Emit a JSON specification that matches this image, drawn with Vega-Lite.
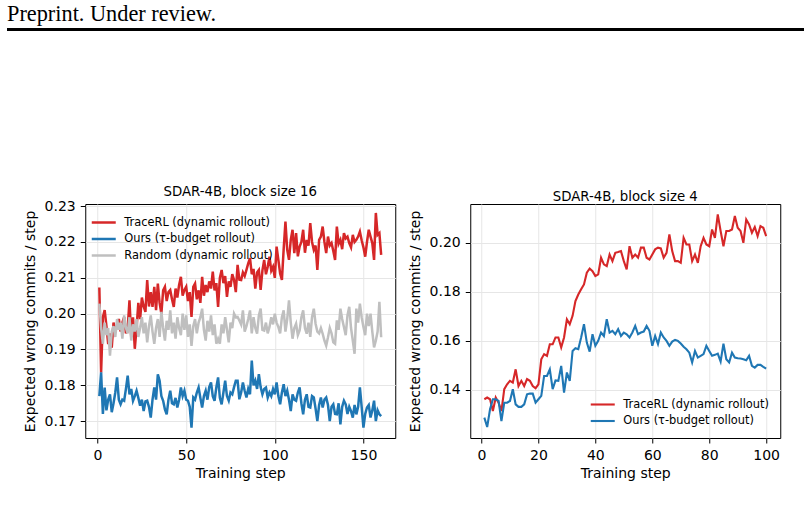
{
  "$schema": "https://vega.github.io/schema/vega-lite/v6.json",
  "background": "white",
  "padding": {"left": 7, "top": 3, "right": 7, "bottom": 5},
  "config": {
    "font": "DejaVu Sans",
    "view": {"stroke": "#000", "strokeWidth": 1},
    "axis": {
      "domain": false,
      "labelFont": "DejaVu Sans",
      "titleFont": "DejaVu Sans",
      "labelFontSize": 14,
      "titleFontSize": 14,
      "labelColor": "#000",
      "titleColor": "#000",
      "titleFontWeight": "normal",
      "tickColor": "#000",
      "tickSize": 5,
      "tickWidth": 1,
      "labelPadding": 5,
      "titlePadding": 7,
      "gridColor": "#e6e6e6",
      "gridWidth": 1
    },
    "axisX": {"titlePadding": 4},
    "title": {"font": "DejaVu Sans", "fontSize": 13.3, "fontWeight": "normal", "color": "#000", "offset": 1},
    "legend": {
      "labelFont": "DejaVu Sans",
      "labelFontSize": 11.4,
      "labelColor": "#000",
      "symbolType": "M-2,0L2,0",
      "symbolSize": 144,
      "padding": 0,
      "rowPadding": 3.5,
      "labelOffset": 13
    }
  },
  "datasets": {
    "bs16": [
      {"series": "TraceRL (dynamic rollout)", "step": 1, "value": 0.2073},
      {"series": "TraceRL (dynamic rollout)", "step": 2, "value": 0.1836},
      {"series": "TraceRL (dynamic rollout)", "step": 3, "value": 0.1990},
      {"series": "TraceRL (dynamic rollout)", "step": 4, "value": 0.2010},
      {"series": "TraceRL (dynamic rollout)", "step": 5, "value": 0.1965},
      {"series": "TraceRL (dynamic rollout)", "step": 6, "value": 0.1915},
      {"series": "TraceRL (dynamic rollout)", "step": 7, "value": 0.1945},
      {"series": "TraceRL (dynamic rollout)", "step": 8, "value": 0.1905},
      {"series": "TraceRL (dynamic rollout)", "step": 9, "value": 0.1975},
      {"series": "TraceRL (dynamic rollout)", "step": 10, "value": 0.1950},
      {"series": "TraceRL (dynamic rollout)", "step": 11, "value": 0.1965},
      {"series": "TraceRL (dynamic rollout)", "step": 12, "value": 0.1985},
      {"series": "TraceRL (dynamic rollout)", "step": 13, "value": 0.1950},
      {"series": "TraceRL (dynamic rollout)", "step": 14, "value": 0.1975},
      {"series": "TraceRL (dynamic rollout)", "step": 15, "value": 0.1990},
      {"series": "TraceRL (dynamic rollout)", "step": 16, "value": 0.1945},
      {"series": "TraceRL (dynamic rollout)", "step": 17, "value": 0.1960},
      {"series": "TraceRL (dynamic rollout)", "step": 18, "value": 0.2037},
      {"series": "TraceRL (dynamic rollout)", "step": 19, "value": 0.1935},
      {"series": "TraceRL (dynamic rollout)", "step": 20, "value": 0.1990},
      {"series": "TraceRL (dynamic rollout)", "step": 21, "value": 0.1902},
      {"series": "TraceRL (dynamic rollout)", "step": 22, "value": 0.1960},
      {"series": "TraceRL (dynamic rollout)", "step": 23, "value": 0.2030},
      {"series": "TraceRL (dynamic rollout)", "step": 24, "value": 0.1985},
      {"series": "TraceRL (dynamic rollout)", "step": 25, "value": 0.2045},
      {"series": "TraceRL (dynamic rollout)", "step": 26, "value": 0.2020},
      {"series": "TraceRL (dynamic rollout)", "step": 27, "value": 0.2005},
      {"series": "TraceRL (dynamic rollout)", "step": 28, "value": 0.2094},
      {"series": "TraceRL (dynamic rollout)", "step": 29, "value": 0.2020},
      {"series": "TraceRL (dynamic rollout)", "step": 30, "value": 0.2060},
      {"series": "TraceRL (dynamic rollout)", "step": 31, "value": 0.2019},
      {"series": "TraceRL (dynamic rollout)", "step": 32, "value": 0.2075},
      {"series": "TraceRL (dynamic rollout)", "step": 33, "value": 0.2010},
      {"series": "TraceRL (dynamic rollout)", "step": 34, "value": 0.2084},
      {"series": "TraceRL (dynamic rollout)", "step": 35, "value": 0.2030},
      {"series": "TraceRL (dynamic rollout)", "step": 36, "value": 0.2000},
      {"series": "TraceRL (dynamic rollout)", "step": 37, "value": 0.2065},
      {"series": "TraceRL (dynamic rollout)", "step": 38, "value": 0.2075},
      {"series": "TraceRL (dynamic rollout)", "step": 39, "value": 0.2035},
      {"series": "TraceRL (dynamic rollout)", "step": 40, "value": 0.2060},
      {"series": "TraceRL (dynamic rollout)", "step": 41, "value": 0.2066},
      {"series": "TraceRL (dynamic rollout)", "step": 42, "value": 0.2040},
      {"series": "TraceRL (dynamic rollout)", "step": 43, "value": 0.2019},
      {"series": "TraceRL (dynamic rollout)", "step": 44, "value": 0.2070},
      {"series": "TraceRL (dynamic rollout)", "step": 45, "value": 0.2045},
      {"series": "TraceRL (dynamic rollout)", "step": 46, "value": 0.2080},
      {"series": "TraceRL (dynamic rollout)", "step": 47, "value": 0.2103},
      {"series": "TraceRL (dynamic rollout)", "step": 48, "value": 0.2050},
      {"series": "TraceRL (dynamic rollout)", "step": 49, "value": 0.2066},
      {"series": "TraceRL (dynamic rollout)", "step": 50, "value": 0.2075},
      {"series": "TraceRL (dynamic rollout)", "step": 51, "value": 0.2035},
      {"series": "TraceRL (dynamic rollout)", "step": 52, "value": 0.2060},
      {"series": "TraceRL (dynamic rollout)", "step": 53, "value": 0.1991},
      {"series": "TraceRL (dynamic rollout)", "step": 54, "value": 0.2075},
      {"series": "TraceRL (dynamic rollout)", "step": 55, "value": 0.2084},
      {"series": "TraceRL (dynamic rollout)", "step": 56, "value": 0.2040},
      {"series": "TraceRL (dynamic rollout)", "step": 57, "value": 0.2065},
      {"series": "TraceRL (dynamic rollout)", "step": 58, "value": 0.2030},
      {"series": "TraceRL (dynamic rollout)", "step": 59, "value": 0.2103},
      {"series": "TraceRL (dynamic rollout)", "step": 60, "value": 0.2050},
      {"series": "TraceRL (dynamic rollout)", "step": 61, "value": 0.2080},
      {"series": "TraceRL (dynamic rollout)", "step": 62, "value": 0.2060},
      {"series": "TraceRL (dynamic rollout)", "step": 63, "value": 0.2090},
      {"series": "TraceRL (dynamic rollout)", "step": 64, "value": 0.2070},
      {"series": "TraceRL (dynamic rollout)", "step": 65, "value": 0.2117},
      {"series": "TraceRL (dynamic rollout)", "step": 66, "value": 0.2065},
      {"series": "TraceRL (dynamic rollout)", "step": 67, "value": 0.2085},
      {"series": "TraceRL (dynamic rollout)", "step": 68, "value": 0.2019},
      {"series": "TraceRL (dynamic rollout)", "step": 69, "value": 0.2100},
      {"series": "TraceRL (dynamic rollout)", "step": 70, "value": 0.2122},
      {"series": "TraceRL (dynamic rollout)", "step": 71, "value": 0.2085},
      {"series": "TraceRL (dynamic rollout)", "step": 72, "value": 0.2105},
      {"series": "TraceRL (dynamic rollout)", "step": 73, "value": 0.2047},
      {"series": "TraceRL (dynamic rollout)", "step": 74, "value": 0.2090},
      {"series": "TraceRL (dynamic rollout)", "step": 75, "value": 0.2075},
      {"series": "TraceRL (dynamic rollout)", "step": 76, "value": 0.2110},
      {"series": "TraceRL (dynamic rollout)", "step": 77, "value": 0.2094},
      {"series": "TraceRL (dynamic rollout)", "step": 78, "value": 0.2060},
      {"series": "TraceRL (dynamic rollout)", "step": 79, "value": 0.2136},
      {"series": "TraceRL (dynamic rollout)", "step": 80, "value": 0.2095},
      {"series": "TraceRL (dynamic rollout)", "step": 81, "value": 0.2094},
      {"series": "TraceRL (dynamic rollout)", "step": 82, "value": 0.2115},
      {"series": "TraceRL (dynamic rollout)", "step": 83, "value": 0.2105},
      {"series": "TraceRL (dynamic rollout)", "step": 84, "value": 0.2122},
      {"series": "TraceRL (dynamic rollout)", "step": 85, "value": 0.2140},
      {"series": "TraceRL (dynamic rollout)", "step": 86, "value": 0.2155},
      {"series": "TraceRL (dynamic rollout)", "step": 87, "value": 0.2110},
      {"series": "TraceRL (dynamic rollout)", "step": 88, "value": 0.2125},
      {"series": "TraceRL (dynamic rollout)", "step": 89, "value": 0.2070},
      {"series": "TraceRL (dynamic rollout)", "step": 90, "value": 0.2115},
      {"series": "TraceRL (dynamic rollout)", "step": 91, "value": 0.2122},
      {"series": "TraceRL (dynamic rollout)", "step": 92, "value": 0.2066},
      {"series": "TraceRL (dynamic rollout)", "step": 93, "value": 0.2120},
      {"series": "TraceRL (dynamic rollout)", "step": 94, "value": 0.2150},
      {"series": "TraceRL (dynamic rollout)", "step": 95, "value": 0.2110},
      {"series": "TraceRL (dynamic rollout)", "step": 96, "value": 0.2131},
      {"series": "TraceRL (dynamic rollout)", "step": 97, "value": 0.2159},
      {"series": "TraceRL (dynamic rollout)", "step": 98, "value": 0.2120},
      {"series": "TraceRL (dynamic rollout)", "step": 99, "value": 0.2131},
      {"series": "TraceRL (dynamic rollout)", "step": 100, "value": 0.2100},
      {"series": "TraceRL (dynamic rollout)", "step": 101, "value": 0.2187},
      {"series": "TraceRL (dynamic rollout)", "step": 102, "value": 0.2150},
      {"series": "TraceRL (dynamic rollout)", "step": 103, "value": 0.2112},
      {"series": "TraceRL (dynamic rollout)", "step": 104, "value": 0.2094},
      {"series": "TraceRL (dynamic rollout)", "step": 105, "value": 0.2180},
      {"series": "TraceRL (dynamic rollout)", "step": 106, "value": 0.2257},
      {"series": "TraceRL (dynamic rollout)", "step": 107, "value": 0.2178},
      {"series": "TraceRL (dynamic rollout)", "step": 108, "value": 0.2150},
      {"series": "TraceRL (dynamic rollout)", "step": 109, "value": 0.2206},
      {"series": "TraceRL (dynamic rollout)", "step": 110, "value": 0.2234},
      {"series": "TraceRL (dynamic rollout)", "step": 111, "value": 0.2169},
      {"series": "TraceRL (dynamic rollout)", "step": 112, "value": 0.2225},
      {"series": "TraceRL (dynamic rollout)", "step": 113, "value": 0.2160},
      {"series": "TraceRL (dynamic rollout)", "step": 114, "value": 0.2187},
      {"series": "TraceRL (dynamic rollout)", "step": 115, "value": 0.2200},
      {"series": "TraceRL (dynamic rollout)", "step": 116, "value": 0.2234},
      {"series": "TraceRL (dynamic rollout)", "step": 117, "value": 0.2170},
      {"series": "TraceRL (dynamic rollout)", "step": 118, "value": 0.2206},
      {"series": "TraceRL (dynamic rollout)", "step": 119, "value": 0.2190},
      {"series": "TraceRL (dynamic rollout)", "step": 120, "value": 0.2253},
      {"series": "TraceRL (dynamic rollout)", "step": 121, "value": 0.2200},
      {"series": "TraceRL (dynamic rollout)", "step": 122, "value": 0.2178},
      {"series": "TraceRL (dynamic rollout)", "step": 123, "value": 0.2190},
      {"series": "TraceRL (dynamic rollout)", "step": 124, "value": 0.2122},
      {"series": "TraceRL (dynamic rollout)", "step": 125, "value": 0.2206},
      {"series": "TraceRL (dynamic rollout)", "step": 126, "value": 0.2215},
      {"series": "TraceRL (dynamic rollout)", "step": 127, "value": 0.2243},
      {"series": "TraceRL (dynamic rollout)", "step": 128, "value": 0.2200},
      {"series": "TraceRL (dynamic rollout)", "step": 129, "value": 0.2169},
      {"series": "TraceRL (dynamic rollout)", "step": 130, "value": 0.2215},
      {"series": "TraceRL (dynamic rollout)", "step": 131, "value": 0.2190},
      {"series": "TraceRL (dynamic rollout)", "step": 132, "value": 0.2197},
      {"series": "TraceRL (dynamic rollout)", "step": 133, "value": 0.2175},
      {"series": "TraceRL (dynamic rollout)", "step": 134, "value": 0.2150},
      {"series": "TraceRL (dynamic rollout)", "step": 135, "value": 0.2243},
      {"series": "TraceRL (dynamic rollout)", "step": 136, "value": 0.2195},
      {"series": "TraceRL (dynamic rollout)", "step": 137, "value": 0.2206},
      {"series": "TraceRL (dynamic rollout)", "step": 138, "value": 0.2180},
      {"series": "TraceRL (dynamic rollout)", "step": 139, "value": 0.2225},
      {"series": "TraceRL (dynamic rollout)", "step": 140, "value": 0.2210},
      {"series": "TraceRL (dynamic rollout)", "step": 141, "value": 0.2215},
      {"series": "TraceRL (dynamic rollout)", "step": 142, "value": 0.2197},
      {"series": "TraceRL (dynamic rollout)", "step": 143, "value": 0.2185},
      {"series": "TraceRL (dynamic rollout)", "step": 144, "value": 0.2220},
      {"series": "TraceRL (dynamic rollout)", "step": 145, "value": 0.2200},
      {"series": "TraceRL (dynamic rollout)", "step": 146, "value": 0.2206},
      {"series": "TraceRL (dynamic rollout)", "step": 147, "value": 0.2215},
      {"series": "TraceRL (dynamic rollout)", "step": 148, "value": 0.2229},
      {"series": "TraceRL (dynamic rollout)", "step": 149, "value": 0.2205},
      {"series": "TraceRL (dynamic rollout)", "step": 150, "value": 0.2185},
      {"series": "TraceRL (dynamic rollout)", "step": 151, "value": 0.2159},
      {"series": "TraceRL (dynamic rollout)", "step": 152, "value": 0.2200},
      {"series": "TraceRL (dynamic rollout)", "step": 153, "value": 0.2234},
      {"series": "TraceRL (dynamic rollout)", "step": 154, "value": 0.2215},
      {"series": "TraceRL (dynamic rollout)", "step": 155, "value": 0.2197},
      {"series": "TraceRL (dynamic rollout)", "step": 156, "value": 0.2150},
      {"series": "TraceRL (dynamic rollout)", "step": 157, "value": 0.2281},
      {"series": "TraceRL (dynamic rollout)", "step": 158, "value": 0.2220},
      {"series": "TraceRL (dynamic rollout)", "step": 159, "value": 0.2225},
      {"series": "TraceRL (dynamic rollout)", "step": 160, "value": 0.2164},
      {"series": "Ours (τ-budget rollout)", "step": 1, "value": 0.1770},
      {"series": "Ours (τ-budget rollout)", "step": 2, "value": 0.1836},
      {"series": "Ours (τ-budget rollout)", "step": 3, "value": 0.1720},
      {"series": "Ours (τ-budget rollout)", "step": 4, "value": 0.1794},
      {"series": "Ours (τ-budget rollout)", "step": 5, "value": 0.1730},
      {"series": "Ours (τ-budget rollout)", "step": 6, "value": 0.1760},
      {"series": "Ours (τ-budget rollout)", "step": 7, "value": 0.1775},
      {"series": "Ours (τ-budget rollout)", "step": 8, "value": 0.1725},
      {"series": "Ours (τ-budget rollout)", "step": 9, "value": 0.1750},
      {"series": "Ours (τ-budget rollout)", "step": 10, "value": 0.1780},
      {"series": "Ours (τ-budget rollout)", "step": 11, "value": 0.1822},
      {"series": "Ours (τ-budget rollout)", "step": 12, "value": 0.1760},
      {"series": "Ours (τ-budget rollout)", "step": 13, "value": 0.1747},
      {"series": "Ours (τ-budget rollout)", "step": 14, "value": 0.1760},
      {"series": "Ours (τ-budget rollout)", "step": 15, "value": 0.1757},
      {"series": "Ours (τ-budget rollout)", "step": 16, "value": 0.1790},
      {"series": "Ours (τ-budget rollout)", "step": 17, "value": 0.1827},
      {"series": "Ours (τ-budget rollout)", "step": 18, "value": 0.1775},
      {"series": "Ours (τ-budget rollout)", "step": 19, "value": 0.1790},
      {"series": "Ours (τ-budget rollout)", "step": 20, "value": 0.1757},
      {"series": "Ours (τ-budget rollout)", "step": 21, "value": 0.1770},
      {"series": "Ours (τ-budget rollout)", "step": 22, "value": 0.1785},
      {"series": "Ours (τ-budget rollout)", "step": 23, "value": 0.1765},
      {"series": "Ours (τ-budget rollout)", "step": 24, "value": 0.1743},
      {"series": "Ours (τ-budget rollout)", "step": 25, "value": 0.1760},
      {"series": "Ours (τ-budget rollout)", "step": 26, "value": 0.1728},
      {"series": "Ours (τ-budget rollout)", "step": 27, "value": 0.1755},
      {"series": "Ours (τ-budget rollout)", "step": 28, "value": 0.1757},
      {"series": "Ours (τ-budget rollout)", "step": 29, "value": 0.1740},
      {"series": "Ours (τ-budget rollout)", "step": 30, "value": 0.1710},
      {"series": "Ours (τ-budget rollout)", "step": 31, "value": 0.1760},
      {"series": "Ours (τ-budget rollout)", "step": 32, "value": 0.1794},
      {"series": "Ours (τ-budget rollout)", "step": 33, "value": 0.1760},
      {"series": "Ours (τ-budget rollout)", "step": 34, "value": 0.1831},
      {"series": "Ours (τ-budget rollout)", "step": 35, "value": 0.1813},
      {"series": "Ours (τ-budget rollout)", "step": 36, "value": 0.1770},
      {"series": "Ours (τ-budget rollout)", "step": 37, "value": 0.1757},
      {"series": "Ours (τ-budget rollout)", "step": 38, "value": 0.1733},
      {"series": "Ours (τ-budget rollout)", "step": 39, "value": 0.1719},
      {"series": "Ours (τ-budget rollout)", "step": 40, "value": 0.1760},
      {"series": "Ours (τ-budget rollout)", "step": 41, "value": 0.1785},
      {"series": "Ours (τ-budget rollout)", "step": 42, "value": 0.1750},
      {"series": "Ours (τ-budget rollout)", "step": 43, "value": 0.1747},
      {"series": "Ours (τ-budget rollout)", "step": 44, "value": 0.1765},
      {"series": "Ours (τ-budget rollout)", "step": 45, "value": 0.1738},
      {"series": "Ours (τ-budget rollout)", "step": 46, "value": 0.1760},
      {"series": "Ours (τ-budget rollout)", "step": 47, "value": 0.1794},
      {"series": "Ours (τ-budget rollout)", "step": 48, "value": 0.1770},
      {"series": "Ours (τ-budget rollout)", "step": 49, "value": 0.1785},
      {"series": "Ours (τ-budget rollout)", "step": 50, "value": 0.1760},
      {"series": "Ours (τ-budget rollout)", "step": 51, "value": 0.1757},
      {"series": "Ours (τ-budget rollout)", "step": 52, "value": 0.1740},
      {"series": "Ours (τ-budget rollout)", "step": 53, "value": 0.1682},
      {"series": "Ours (τ-budget rollout)", "step": 54, "value": 0.1766},
      {"series": "Ours (τ-budget rollout)", "step": 55, "value": 0.1760},
      {"series": "Ours (τ-budget rollout)", "step": 56, "value": 0.1780},
      {"series": "Ours (τ-budget rollout)", "step": 57, "value": 0.1794},
      {"series": "Ours (τ-budget rollout)", "step": 58, "value": 0.1765},
      {"series": "Ours (τ-budget rollout)", "step": 59, "value": 0.1738},
      {"series": "Ours (τ-budget rollout)", "step": 60, "value": 0.1770},
      {"series": "Ours (τ-budget rollout)", "step": 61, "value": 0.1785},
      {"series": "Ours (τ-budget rollout)", "step": 62, "value": 0.1760},
      {"series": "Ours (τ-budget rollout)", "step": 63, "value": 0.1795},
      {"series": "Ours (τ-budget rollout)", "step": 64, "value": 0.1808},
      {"series": "Ours (τ-budget rollout)", "step": 65, "value": 0.1770},
      {"series": "Ours (τ-budget rollout)", "step": 66, "value": 0.1757},
      {"series": "Ours (τ-budget rollout)", "step": 67, "value": 0.1794},
      {"series": "Ours (τ-budget rollout)", "step": 68, "value": 0.1822},
      {"series": "Ours (τ-budget rollout)", "step": 69, "value": 0.1765},
      {"series": "Ours (τ-budget rollout)", "step": 70, "value": 0.1747},
      {"series": "Ours (τ-budget rollout)", "step": 71, "value": 0.1780},
      {"series": "Ours (τ-budget rollout)", "step": 72, "value": 0.1813},
      {"series": "Ours (τ-budget rollout)", "step": 73, "value": 0.1770},
      {"series": "Ours (τ-budget rollout)", "step": 74, "value": 0.1757},
      {"series": "Ours (τ-budget rollout)", "step": 75, "value": 0.1780},
      {"series": "Ours (τ-budget rollout)", "step": 76, "value": 0.1775},
      {"series": "Ours (τ-budget rollout)", "step": 77, "value": 0.1795},
      {"series": "Ours (τ-budget rollout)", "step": 78, "value": 0.1813},
      {"series": "Ours (τ-budget rollout)", "step": 79, "value": 0.1813},
      {"series": "Ours (τ-budget rollout)", "step": 80, "value": 0.1761},
      {"series": "Ours (τ-budget rollout)", "step": 81, "value": 0.1780},
      {"series": "Ours (τ-budget rollout)", "step": 82, "value": 0.1808},
      {"series": "Ours (τ-budget rollout)", "step": 83, "value": 0.1785},
      {"series": "Ours (τ-budget rollout)", "step": 84, "value": 0.1766},
      {"series": "Ours (τ-budget rollout)", "step": 85, "value": 0.1790},
      {"series": "Ours (τ-budget rollout)", "step": 86, "value": 0.1775},
      {"series": "Ours (τ-budget rollout)", "step": 87, "value": 0.1869},
      {"series": "Ours (τ-budget rollout)", "step": 88, "value": 0.1800},
      {"series": "Ours (τ-budget rollout)", "step": 89, "value": 0.1813},
      {"series": "Ours (τ-budget rollout)", "step": 90, "value": 0.1790},
      {"series": "Ours (τ-budget rollout)", "step": 91, "value": 0.1831},
      {"series": "Ours (τ-budget rollout)", "step": 92, "value": 0.1795},
      {"series": "Ours (τ-budget rollout)", "step": 93, "value": 0.1775},
      {"series": "Ours (τ-budget rollout)", "step": 94, "value": 0.1790},
      {"series": "Ours (τ-budget rollout)", "step": 95, "value": 0.1794},
      {"series": "Ours (τ-budget rollout)", "step": 96, "value": 0.1766},
      {"series": "Ours (τ-budget rollout)", "step": 97, "value": 0.1780},
      {"series": "Ours (τ-budget rollout)", "step": 98, "value": 0.1770},
      {"series": "Ours (τ-budget rollout)", "step": 99, "value": 0.1790},
      {"series": "Ours (τ-budget rollout)", "step": 100, "value": 0.1775},
      {"series": "Ours (τ-budget rollout)", "step": 101, "value": 0.1808},
      {"series": "Ours (τ-budget rollout)", "step": 102, "value": 0.1770},
      {"series": "Ours (τ-budget rollout)", "step": 103, "value": 0.1747},
      {"series": "Ours (τ-budget rollout)", "step": 104, "value": 0.1780},
      {"series": "Ours (τ-budget rollout)", "step": 105, "value": 0.1803},
      {"series": "Ours (τ-budget rollout)", "step": 106, "value": 0.1770},
      {"series": "Ours (τ-budget rollout)", "step": 107, "value": 0.1785},
      {"series": "Ours (τ-budget rollout)", "step": 108, "value": 0.1760},
      {"series": "Ours (τ-budget rollout)", "step": 109, "value": 0.1728},
      {"series": "Ours (τ-budget rollout)", "step": 110, "value": 0.1775},
      {"series": "Ours (τ-budget rollout)", "step": 111, "value": 0.1760},
      {"series": "Ours (τ-budget rollout)", "step": 112, "value": 0.1757},
      {"series": "Ours (τ-budget rollout)", "step": 113, "value": 0.1780},
      {"series": "Ours (τ-budget rollout)", "step": 114, "value": 0.1794},
      {"series": "Ours (τ-budget rollout)", "step": 115, "value": 0.1750},
      {"series": "Ours (τ-budget rollout)", "step": 116, "value": 0.1719},
      {"series": "Ours (τ-budget rollout)", "step": 117, "value": 0.1760},
      {"series": "Ours (τ-budget rollout)", "step": 118, "value": 0.1775},
      {"series": "Ours (τ-budget rollout)", "step": 119, "value": 0.1740},
      {"series": "Ours (τ-budget rollout)", "step": 120, "value": 0.1738},
      {"series": "Ours (τ-budget rollout)", "step": 121, "value": 0.1770},
      {"series": "Ours (τ-budget rollout)", "step": 122, "value": 0.1766},
      {"series": "Ours (τ-budget rollout)", "step": 123, "value": 0.1735},
      {"series": "Ours (τ-budget rollout)", "step": 124, "value": 0.1700},
      {"series": "Ours (τ-budget rollout)", "step": 125, "value": 0.1745},
      {"series": "Ours (τ-budget rollout)", "step": 126, "value": 0.1766},
      {"series": "Ours (τ-budget rollout)", "step": 127, "value": 0.1738},
      {"series": "Ours (τ-budget rollout)", "step": 128, "value": 0.1760},
      {"series": "Ours (τ-budget rollout)", "step": 129, "value": 0.1766},
      {"series": "Ours (τ-budget rollout)", "step": 130, "value": 0.1745},
      {"series": "Ours (τ-budget rollout)", "step": 131, "value": 0.1700},
      {"series": "Ours (τ-budget rollout)", "step": 132, "value": 0.1740},
      {"series": "Ours (τ-budget rollout)", "step": 133, "value": 0.1747},
      {"series": "Ours (τ-budget rollout)", "step": 134, "value": 0.1720},
      {"series": "Ours (τ-budget rollout)", "step": 135, "value": 0.1719},
      {"series": "Ours (τ-budget rollout)", "step": 136, "value": 0.1750},
      {"series": "Ours (τ-budget rollout)", "step": 137, "value": 0.1691},
      {"series": "Ours (τ-budget rollout)", "step": 138, "value": 0.1740},
      {"series": "Ours (τ-budget rollout)", "step": 139, "value": 0.1757},
      {"series": "Ours (τ-budget rollout)", "step": 140, "value": 0.1747},
      {"series": "Ours (τ-budget rollout)", "step": 141, "value": 0.1720},
      {"series": "Ours (τ-budget rollout)", "step": 142, "value": 0.1740},
      {"series": "Ours (τ-budget rollout)", "step": 143, "value": 0.1728},
      {"series": "Ours (τ-budget rollout)", "step": 144, "value": 0.1710},
      {"series": "Ours (τ-budget rollout)", "step": 145, "value": 0.1745},
      {"series": "Ours (τ-budget rollout)", "step": 146, "value": 0.1719},
      {"series": "Ours (τ-budget rollout)", "step": 147, "value": 0.1740},
      {"series": "Ours (τ-budget rollout)", "step": 148, "value": 0.1794},
      {"series": "Ours (τ-budget rollout)", "step": 149, "value": 0.1740},
      {"series": "Ours (τ-budget rollout)", "step": 150, "value": 0.1682},
      {"series": "Ours (τ-budget rollout)", "step": 151, "value": 0.1720},
      {"series": "Ours (τ-budget rollout)", "step": 152, "value": 0.1738},
      {"series": "Ours (τ-budget rollout)", "step": 153, "value": 0.1745},
      {"series": "Ours (τ-budget rollout)", "step": 154, "value": 0.1710},
      {"series": "Ours (τ-budget rollout)", "step": 155, "value": 0.1730},
      {"series": "Ours (τ-budget rollout)", "step": 156, "value": 0.1757},
      {"series": "Ours (τ-budget rollout)", "step": 157, "value": 0.1700},
      {"series": "Ours (τ-budget rollout)", "step": 158, "value": 0.1730},
      {"series": "Ours (τ-budget rollout)", "step": 159, "value": 0.1719},
      {"series": "Ours (τ-budget rollout)", "step": 160, "value": 0.1714},
      {"series": "Random (dynamic rollout)", "step": 1, "value": 0.2028},
      {"series": "Random (dynamic rollout)", "step": 2, "value": 0.1960},
      {"series": "Random (dynamic rollout)", "step": 3, "value": 0.1916},
      {"series": "Random (dynamic rollout)", "step": 4, "value": 0.1975},
      {"series": "Random (dynamic rollout)", "step": 5, "value": 0.1940},
      {"series": "Random (dynamic rollout)", "step": 6, "value": 0.1960},
      {"series": "Random (dynamic rollout)", "step": 7, "value": 0.1883},
      {"series": "Random (dynamic rollout)", "step": 8, "value": 0.1950},
      {"series": "Random (dynamic rollout)", "step": 9, "value": 0.1965},
      {"series": "Random (dynamic rollout)", "step": 10, "value": 0.1935},
      {"series": "Random (dynamic rollout)", "step": 11, "value": 0.1985},
      {"series": "Random (dynamic rollout)", "step": 12, "value": 0.1955},
      {"series": "Random (dynamic rollout)", "step": 13, "value": 0.1975},
      {"series": "Random (dynamic rollout)", "step": 14, "value": 0.1930},
      {"series": "Random (dynamic rollout)", "step": 15, "value": 0.1995},
      {"series": "Random (dynamic rollout)", "step": 16, "value": 0.1960},
      {"series": "Random (dynamic rollout)", "step": 17, "value": 0.1945},
      {"series": "Random (dynamic rollout)", "step": 18, "value": 0.1990},
      {"series": "Random (dynamic rollout)", "step": 19, "value": 0.1925},
      {"series": "Random (dynamic rollout)", "step": 20, "value": 0.1970},
      {"series": "Random (dynamic rollout)", "step": 21, "value": 0.1950},
      {"series": "Random (dynamic rollout)", "step": 22, "value": 0.1985},
      {"series": "Random (dynamic rollout)", "step": 23, "value": 0.1935},
      {"series": "Random (dynamic rollout)", "step": 24, "value": 0.1960},
      {"series": "Random (dynamic rollout)", "step": 25, "value": 0.1990},
      {"series": "Random (dynamic rollout)", "step": 26, "value": 0.1945},
      {"series": "Random (dynamic rollout)", "step": 27, "value": 0.1975},
      {"series": "Random (dynamic rollout)", "step": 28, "value": 0.1920},
      {"series": "Random (dynamic rollout)", "step": 29, "value": 0.1965},
      {"series": "Random (dynamic rollout)", "step": 30, "value": 0.1995},
      {"series": "Random (dynamic rollout)", "step": 31, "value": 0.1950},
      {"series": "Random (dynamic rollout)", "step": 32, "value": 0.1916},
      {"series": "Random (dynamic rollout)", "step": 33, "value": 0.1960},
      {"series": "Random (dynamic rollout)", "step": 34, "value": 0.1985},
      {"series": "Random (dynamic rollout)", "step": 35, "value": 0.1935},
      {"series": "Random (dynamic rollout)", "step": 36, "value": 0.2005},
      {"series": "Random (dynamic rollout)", "step": 37, "value": 0.1960},
      {"series": "Random (dynamic rollout)", "step": 38, "value": 0.1925},
      {"series": "Random (dynamic rollout)", "step": 39, "value": 0.1980},
      {"series": "Random (dynamic rollout)", "step": 40, "value": 0.1955},
      {"series": "Random (dynamic rollout)", "step": 41, "value": 0.2009},
      {"series": "Random (dynamic rollout)", "step": 42, "value": 0.1945},
      {"series": "Random (dynamic rollout)", "step": 43, "value": 0.1975},
      {"series": "Random (dynamic rollout)", "step": 44, "value": 0.1930},
      {"series": "Random (dynamic rollout)", "step": 45, "value": 0.1990},
      {"series": "Random (dynamic rollout)", "step": 46, "value": 0.1960},
      {"series": "Random (dynamic rollout)", "step": 47, "value": 0.1940},
      {"series": "Random (dynamic rollout)", "step": 48, "value": 0.2000},
      {"series": "Random (dynamic rollout)", "step": 49, "value": 0.1955},
      {"series": "Random (dynamic rollout)", "step": 50, "value": 0.1995},
      {"series": "Random (dynamic rollout)", "step": 51, "value": 0.1935},
      {"series": "Random (dynamic rollout)", "step": 52, "value": 0.1970},
      {"series": "Random (dynamic rollout)", "step": 53, "value": 0.1910},
      {"series": "Random (dynamic rollout)", "step": 54, "value": 0.1965},
      {"series": "Random (dynamic rollout)", "step": 55, "value": 0.1985},
      {"series": "Random (dynamic rollout)", "step": 56, "value": 0.1945},
      {"series": "Random (dynamic rollout)", "step": 57, "value": 0.1975},
      {"series": "Random (dynamic rollout)", "step": 58, "value": 0.1990},
      {"series": "Random (dynamic rollout)", "step": 59, "value": 0.2014},
      {"series": "Random (dynamic rollout)", "step": 60, "value": 0.1955},
      {"series": "Random (dynamic rollout)", "step": 61, "value": 0.1925},
      {"series": "Random (dynamic rollout)", "step": 62, "value": 0.1980},
      {"series": "Random (dynamic rollout)", "step": 63, "value": 0.1950},
      {"series": "Random (dynamic rollout)", "step": 64, "value": 0.1995},
      {"series": "Random (dynamic rollout)", "step": 65, "value": 0.1940},
      {"series": "Random (dynamic rollout)", "step": 66, "value": 0.1970},
      {"series": "Random (dynamic rollout)", "step": 67, "value": 0.1916},
      {"series": "Random (dynamic rollout)", "step": 68, "value": 0.1930},
      {"series": "Random (dynamic rollout)", "step": 69, "value": 0.1916},
      {"series": "Random (dynamic rollout)", "step": 70, "value": 0.1970},
      {"series": "Random (dynamic rollout)", "step": 71, "value": 0.1945},
      {"series": "Random (dynamic rollout)", "step": 72, "value": 0.1990},
      {"series": "Random (dynamic rollout)", "step": 73, "value": 0.1955},
      {"series": "Random (dynamic rollout)", "step": 74, "value": 0.1920},
      {"series": "Random (dynamic rollout)", "step": 75, "value": 0.1975},
      {"series": "Random (dynamic rollout)", "step": 76, "value": 0.1960},
      {"series": "Random (dynamic rollout)", "step": 77, "value": 0.2000},
      {"series": "Random (dynamic rollout)", "step": 78, "value": 0.1990},
      {"series": "Random (dynamic rollout)", "step": 79, "value": 0.1991},
      {"series": "Random (dynamic rollout)", "step": 80, "value": 0.1981},
      {"series": "Random (dynamic rollout)", "step": 81, "value": 0.1970},
      {"series": "Random (dynamic rollout)", "step": 82, "value": 0.2009},
      {"series": "Random (dynamic rollout)", "step": 83, "value": 0.1950},
      {"series": "Random (dynamic rollout)", "step": 84, "value": 0.1965},
      {"series": "Random (dynamic rollout)", "step": 85, "value": 0.1985},
      {"series": "Random (dynamic rollout)", "step": 86, "value": 0.2009},
      {"series": "Random (dynamic rollout)", "step": 87, "value": 0.1945},
      {"series": "Random (dynamic rollout)", "step": 88, "value": 0.1990},
      {"series": "Random (dynamic rollout)", "step": 89, "value": 0.1960},
      {"series": "Random (dynamic rollout)", "step": 90, "value": 0.1944},
      {"series": "Random (dynamic rollout)", "step": 91, "value": 0.1995},
      {"series": "Random (dynamic rollout)", "step": 92, "value": 0.2014},
      {"series": "Random (dynamic rollout)", "step": 93, "value": 0.1955},
      {"series": "Random (dynamic rollout)", "step": 94, "value": 0.1953},
      {"series": "Random (dynamic rollout)", "step": 95, "value": 0.1975},
      {"series": "Random (dynamic rollout)", "step": 96, "value": 0.1945},
      {"series": "Random (dynamic rollout)", "step": 97, "value": 0.1963},
      {"series": "Random (dynamic rollout)", "step": 98, "value": 0.1990},
      {"series": "Random (dynamic rollout)", "step": 99, "value": 0.1970},
      {"series": "Random (dynamic rollout)", "step": 100, "value": 0.2000},
      {"series": "Random (dynamic rollout)", "step": 101, "value": 0.1975},
      {"series": "Random (dynamic rollout)", "step": 102, "value": 0.1963},
      {"series": "Random (dynamic rollout)", "step": 103, "value": 0.1945},
      {"series": "Random (dynamic rollout)", "step": 104, "value": 0.1990},
      {"series": "Random (dynamic rollout)", "step": 105, "value": 0.2009},
      {"series": "Random (dynamic rollout)", "step": 106, "value": 0.1950},
      {"series": "Random (dynamic rollout)", "step": 107, "value": 0.1985},
      {"series": "Random (dynamic rollout)", "step": 108, "value": 0.2037},
      {"series": "Random (dynamic rollout)", "step": 109, "value": 0.1975},
      {"series": "Random (dynamic rollout)", "step": 110, "value": 0.1930},
      {"series": "Random (dynamic rollout)", "step": 111, "value": 0.1960},
      {"series": "Random (dynamic rollout)", "step": 112, "value": 0.1972},
      {"series": "Random (dynamic rollout)", "step": 113, "value": 0.1940},
      {"series": "Random (dynamic rollout)", "step": 114, "value": 0.1953},
      {"series": "Random (dynamic rollout)", "step": 115, "value": 0.1990},
      {"series": "Random (dynamic rollout)", "step": 116, "value": 0.2009},
      {"series": "Random (dynamic rollout)", "step": 117, "value": 0.1960},
      {"series": "Random (dynamic rollout)", "step": 118, "value": 0.1944},
      {"series": "Random (dynamic rollout)", "step": 119, "value": 0.1975},
      {"series": "Random (dynamic rollout)", "step": 120, "value": 0.1935},
      {"series": "Random (dynamic rollout)", "step": 121, "value": 0.1990},
      {"series": "Random (dynamic rollout)", "step": 122, "value": 0.2014},
      {"series": "Random (dynamic rollout)", "step": 123, "value": 0.1972},
      {"series": "Random (dynamic rollout)", "step": 124, "value": 0.1950},
      {"series": "Random (dynamic rollout)", "step": 125, "value": 0.1945},
      {"series": "Random (dynamic rollout)", "step": 126, "value": 0.1960},
      {"series": "Random (dynamic rollout)", "step": 127, "value": 0.1944},
      {"series": "Random (dynamic rollout)", "step": 128, "value": 0.1925},
      {"series": "Random (dynamic rollout)", "step": 129, "value": 0.1911},
      {"series": "Random (dynamic rollout)", "step": 130, "value": 0.1934},
      {"series": "Random (dynamic rollout)", "step": 131, "value": 0.1960},
      {"series": "Random (dynamic rollout)", "step": 132, "value": 0.1945},
      {"series": "Random (dynamic rollout)", "step": 133, "value": 0.1920},
      {"series": "Random (dynamic rollout)", "step": 134, "value": 0.1916},
      {"series": "Random (dynamic rollout)", "step": 135, "value": 0.1981},
      {"series": "Random (dynamic rollout)", "step": 136, "value": 0.1955},
      {"series": "Random (dynamic rollout)", "step": 137, "value": 0.2014},
      {"series": "Random (dynamic rollout)", "step": 138, "value": 0.1985},
      {"series": "Random (dynamic rollout)", "step": 139, "value": 0.1963},
      {"series": "Random (dynamic rollout)", "step": 140, "value": 0.1940},
      {"series": "Random (dynamic rollout)", "step": 141, "value": 0.1995},
      {"series": "Random (dynamic rollout)", "step": 142, "value": 0.2019},
      {"series": "Random (dynamic rollout)", "step": 143, "value": 0.1960},
      {"series": "Random (dynamic rollout)", "step": 144, "value": 0.1925},
      {"series": "Random (dynamic rollout)", "step": 145, "value": 0.1888},
      {"series": "Random (dynamic rollout)", "step": 146, "value": 0.2014},
      {"series": "Random (dynamic rollout)", "step": 147, "value": 0.1975},
      {"series": "Random (dynamic rollout)", "step": 148, "value": 0.2028},
      {"series": "Random (dynamic rollout)", "step": 149, "value": 0.1990},
      {"series": "Random (dynamic rollout)", "step": 150, "value": 0.1963},
      {"series": "Random (dynamic rollout)", "step": 151, "value": 0.1940},
      {"series": "Random (dynamic rollout)", "step": 152, "value": 0.2000},
      {"series": "Random (dynamic rollout)", "step": 153, "value": 0.1965},
      {"series": "Random (dynamic rollout)", "step": 154, "value": 0.2000},
      {"series": "Random (dynamic rollout)", "step": 155, "value": 0.1950},
      {"series": "Random (dynamic rollout)", "step": 156, "value": 0.1906},
      {"series": "Random (dynamic rollout)", "step": 157, "value": 0.1925},
      {"series": "Random (dynamic rollout)", "step": 158, "value": 0.1950},
      {"series": "Random (dynamic rollout)", "step": 159, "value": 0.2033},
      {"series": "Random (dynamic rollout)", "step": 160, "value": 0.1934}
    ],
    "bs4": [
      {"series": "TraceRL (dynamic rollout)", "step": 1, "value": 0.1362},
      {"series": "TraceRL (dynamic rollout)", "step": 2, "value": 0.1369},
      {"series": "TraceRL (dynamic rollout)", "step": 3, "value": 0.1362},
      {"series": "TraceRL (dynamic rollout)", "step": 4, "value": 0.1314},
      {"series": "TraceRL (dynamic rollout)", "step": 5, "value": 0.1369},
      {"series": "TraceRL (dynamic rollout)", "step": 6, "value": 0.1348},
      {"series": "TraceRL (dynamic rollout)", "step": 7, "value": 0.1314},
      {"series": "TraceRL (dynamic rollout)", "step": 8, "value": 0.1403},
      {"series": "TraceRL (dynamic rollout)", "step": 9, "value": 0.1423},
      {"series": "TraceRL (dynamic rollout)", "step": 10, "value": 0.1437},
      {"series": "TraceRL (dynamic rollout)", "step": 11, "value": 0.1430},
      {"series": "TraceRL (dynamic rollout)", "step": 12, "value": 0.1484},
      {"series": "TraceRL (dynamic rollout)", "step": 13, "value": 0.1416},
      {"series": "TraceRL (dynamic rollout)", "step": 14, "value": 0.1437},
      {"series": "TraceRL (dynamic rollout)", "step": 15, "value": 0.1416},
      {"series": "TraceRL (dynamic rollout)", "step": 16, "value": 0.1444},
      {"series": "TraceRL (dynamic rollout)", "step": 17, "value": 0.1437},
      {"series": "TraceRL (dynamic rollout)", "step": 18, "value": 0.1416},
      {"series": "TraceRL (dynamic rollout)", "step": 19, "value": 0.1407},
      {"series": "TraceRL (dynamic rollout)", "step": 20, "value": 0.1423},
      {"series": "TraceRL (dynamic rollout)", "step": 21, "value": 0.1525},
      {"series": "TraceRL (dynamic rollout)", "step": 22, "value": 0.1546},
      {"series": "TraceRL (dynamic rollout)", "step": 23, "value": 0.1539},
      {"series": "TraceRL (dynamic rollout)", "step": 24, "value": 0.1586},
      {"series": "TraceRL (dynamic rollout)", "step": 25, "value": 0.1586},
      {"series": "TraceRL (dynamic rollout)", "step": 26, "value": 0.1614},
      {"series": "TraceRL (dynamic rollout)", "step": 27, "value": 0.1614},
      {"series": "TraceRL (dynamic rollout)", "step": 28, "value": 0.1573},
      {"series": "TraceRL (dynamic rollout)", "step": 29, "value": 0.1614},
      {"series": "TraceRL (dynamic rollout)", "step": 30, "value": 0.1688},
      {"series": "TraceRL (dynamic rollout)", "step": 31, "value": 0.1668},
      {"series": "TraceRL (dynamic rollout)", "step": 32, "value": 0.1702},
      {"series": "TraceRL (dynamic rollout)", "step": 33, "value": 0.1762},
      {"series": "TraceRL (dynamic rollout)", "step": 34, "value": 0.1789},
      {"series": "TraceRL (dynamic rollout)", "step": 35, "value": 0.1810},
      {"series": "TraceRL (dynamic rollout)", "step": 36, "value": 0.1830},
      {"series": "TraceRL (dynamic rollout)", "step": 37, "value": 0.1878},
      {"series": "TraceRL (dynamic rollout)", "step": 38, "value": 0.1895},
      {"series": "TraceRL (dynamic rollout)", "step": 39, "value": 0.1884},
      {"series": "TraceRL (dynamic rollout)", "step": 40, "value": 0.1864},
      {"series": "TraceRL (dynamic rollout)", "step": 41, "value": 0.1871},
      {"series": "TraceRL (dynamic rollout)", "step": 42, "value": 0.1939},
      {"series": "TraceRL (dynamic rollout)", "step": 43, "value": 0.1912},
      {"series": "TraceRL (dynamic rollout)", "step": 44, "value": 0.1905},
      {"series": "TraceRL (dynamic rollout)", "step": 45, "value": 0.1952},
      {"series": "TraceRL (dynamic rollout)", "step": 46, "value": 0.1925},
      {"series": "TraceRL (dynamic rollout)", "step": 47, "value": 0.1959},
      {"series": "TraceRL (dynamic rollout)", "step": 48, "value": 0.1962},
      {"series": "TraceRL (dynamic rollout)", "step": 49, "value": 0.1966},
      {"series": "TraceRL (dynamic rollout)", "step": 50, "value": 0.1925},
      {"series": "TraceRL (dynamic rollout)", "step": 51, "value": 0.1891},
      {"series": "TraceRL (dynamic rollout)", "step": 52, "value": 0.1986},
      {"series": "TraceRL (dynamic rollout)", "step": 53, "value": 0.1939},
      {"series": "TraceRL (dynamic rollout)", "step": 54, "value": 0.1952},
      {"series": "TraceRL (dynamic rollout)", "step": 55, "value": 0.1939},
      {"series": "TraceRL (dynamic rollout)", "step": 56, "value": 0.1980},
      {"series": "TraceRL (dynamic rollout)", "step": 57, "value": 0.1980},
      {"series": "TraceRL (dynamic rollout)", "step": 58, "value": 0.1939},
      {"series": "TraceRL (dynamic rollout)", "step": 59, "value": 0.1932},
      {"series": "TraceRL (dynamic rollout)", "step": 60, "value": 0.1952},
      {"series": "TraceRL (dynamic rollout)", "step": 61, "value": 0.1973},
      {"series": "TraceRL (dynamic rollout)", "step": 62, "value": 0.1980},
      {"series": "TraceRL (dynamic rollout)", "step": 63, "value": 0.1977},
      {"series": "TraceRL (dynamic rollout)", "step": 64, "value": 0.1939},
      {"series": "TraceRL (dynamic rollout)", "step": 65, "value": 0.1959},
      {"series": "TraceRL (dynamic rollout)", "step": 66, "value": 0.2034},
      {"series": "TraceRL (dynamic rollout)", "step": 67, "value": 0.1966},
      {"series": "TraceRL (dynamic rollout)", "step": 68, "value": 0.1925},
      {"series": "TraceRL (dynamic rollout)", "step": 69, "value": 0.1925},
      {"series": "TraceRL (dynamic rollout)", "step": 70, "value": 0.1918},
      {"series": "TraceRL (dynamic rollout)", "step": 71, "value": 0.2020},
      {"series": "TraceRL (dynamic rollout)", "step": 72, "value": 0.1993},
      {"series": "TraceRL (dynamic rollout)", "step": 73, "value": 0.1993},
      {"series": "TraceRL (dynamic rollout)", "step": 74, "value": 0.1925},
      {"series": "TraceRL (dynamic rollout)", "step": 75, "value": 0.1952},
      {"series": "TraceRL (dynamic rollout)", "step": 76, "value": 0.1918},
      {"series": "TraceRL (dynamic rollout)", "step": 77, "value": 0.1986},
      {"series": "TraceRL (dynamic rollout)", "step": 78, "value": 0.2020},
      {"series": "TraceRL (dynamic rollout)", "step": 79, "value": 0.1993},
      {"series": "TraceRL (dynamic rollout)", "step": 80, "value": 0.1986},
      {"series": "TraceRL (dynamic rollout)", "step": 81, "value": 0.2054},
      {"series": "TraceRL (dynamic rollout)", "step": 82, "value": 0.2020},
      {"series": "TraceRL (dynamic rollout)", "step": 83, "value": 0.2116},
      {"series": "TraceRL (dynamic rollout)", "step": 84, "value": 0.2048},
      {"series": "TraceRL (dynamic rollout)", "step": 85, "value": 0.1986},
      {"series": "TraceRL (dynamic rollout)", "step": 86, "value": 0.2048},
      {"series": "TraceRL (dynamic rollout)", "step": 87, "value": 0.2048},
      {"series": "TraceRL (dynamic rollout)", "step": 88, "value": 0.2054},
      {"series": "TraceRL (dynamic rollout)", "step": 89, "value": 0.2109},
      {"series": "TraceRL (dynamic rollout)", "step": 90, "value": 0.2061},
      {"series": "TraceRL (dynamic rollout)", "step": 91, "value": 0.2048},
      {"series": "TraceRL (dynamic rollout)", "step": 92, "value": 0.2000},
      {"series": "TraceRL (dynamic rollout)", "step": 93, "value": 0.2095},
      {"series": "TraceRL (dynamic rollout)", "step": 94, "value": 0.2075},
      {"series": "TraceRL (dynamic rollout)", "step": 95, "value": 0.2041},
      {"series": "TraceRL (dynamic rollout)", "step": 96, "value": 0.2064},
      {"series": "TraceRL (dynamic rollout)", "step": 97, "value": 0.2027},
      {"series": "TraceRL (dynamic rollout)", "step": 98, "value": 0.2068},
      {"series": "TraceRL (dynamic rollout)", "step": 99, "value": 0.2061},
      {"series": "TraceRL (dynamic rollout)", "step": 100, "value": 0.2027},
      {"series": "Ours (τ-budget rollout)", "step": 1, "value": 0.1287},
      {"series": "Ours (τ-budget rollout)", "step": 2, "value": 0.1249},
      {"series": "Ours (τ-budget rollout)", "step": 3, "value": 0.1321},
      {"series": "Ours (τ-budget rollout)", "step": 4, "value": 0.1362},
      {"series": "Ours (τ-budget rollout)", "step": 5, "value": 0.1362},
      {"series": "Ours (τ-budget rollout)", "step": 6, "value": 0.1355},
      {"series": "Ours (τ-budget rollout)", "step": 7, "value": 0.1273},
      {"series": "Ours (τ-budget rollout)", "step": 8, "value": 0.1348},
      {"series": "Ours (τ-budget rollout)", "step": 9, "value": 0.1348},
      {"series": "Ours (τ-budget rollout)", "step": 10, "value": 0.1355},
      {"series": "Ours (τ-budget rollout)", "step": 11, "value": 0.1403},
      {"series": "Ours (τ-budget rollout)", "step": 12, "value": 0.1341},
      {"series": "Ours (τ-budget rollout)", "step": 13, "value": 0.1331},
      {"series": "Ours (τ-budget rollout)", "step": 14, "value": 0.1331},
      {"series": "Ours (τ-budget rollout)", "step": 15, "value": 0.1341},
      {"series": "Ours (τ-budget rollout)", "step": 16, "value": 0.1382},
      {"series": "Ours (τ-budget rollout)", "step": 17, "value": 0.1385},
      {"series": "Ours (τ-budget rollout)", "step": 18, "value": 0.1385},
      {"series": "Ours (τ-budget rollout)", "step": 19, "value": 0.1348},
      {"series": "Ours (τ-budget rollout)", "step": 20, "value": 0.1362},
      {"series": "Ours (τ-budget rollout)", "step": 21, "value": 0.1376},
      {"series": "Ours (τ-budget rollout)", "step": 22, "value": 0.1457},
      {"series": "Ours (τ-budget rollout)", "step": 23, "value": 0.1457},
      {"series": "Ours (τ-budget rollout)", "step": 24, "value": 0.1484},
      {"series": "Ours (τ-budget rollout)", "step": 25, "value": 0.1403},
      {"series": "Ours (τ-budget rollout)", "step": 26, "value": 0.1439},
      {"series": "Ours (τ-budget rollout)", "step": 27, "value": 0.1437},
      {"series": "Ours (τ-budget rollout)", "step": 28, "value": 0.1498},
      {"series": "Ours (τ-budget rollout)", "step": 29, "value": 0.1389},
      {"series": "Ours (τ-budget rollout)", "step": 30, "value": 0.1471},
      {"series": "Ours (τ-budget rollout)", "step": 31, "value": 0.1437},
      {"series": "Ours (τ-budget rollout)", "step": 32, "value": 0.1559},
      {"series": "Ours (τ-budget rollout)", "step": 33, "value": 0.1570},
      {"series": "Ours (τ-budget rollout)", "step": 34, "value": 0.1566},
      {"series": "Ours (τ-budget rollout)", "step": 35, "value": 0.1614},
      {"series": "Ours (τ-budget rollout)", "step": 36, "value": 0.1668},
      {"series": "Ours (τ-budget rollout)", "step": 37, "value": 0.1593},
      {"series": "Ours (τ-budget rollout)", "step": 38, "value": 0.1556},
      {"series": "Ours (τ-budget rollout)", "step": 39, "value": 0.1627},
      {"series": "Ours (τ-budget rollout)", "step": 40, "value": 0.1580},
      {"series": "Ours (τ-budget rollout)", "step": 41, "value": 0.1600},
      {"series": "Ours (τ-budget rollout)", "step": 42, "value": 0.1634},
      {"series": "Ours (τ-budget rollout)", "step": 43, "value": 0.1620},
      {"series": "Ours (τ-budget rollout)", "step": 44, "value": 0.1688},
      {"series": "Ours (τ-budget rollout)", "step": 45, "value": 0.1634},
      {"series": "Ours (τ-budget rollout)", "step": 46, "value": 0.1641},
      {"series": "Ours (τ-budget rollout)", "step": 47, "value": 0.1627},
      {"series": "Ours (τ-budget rollout)", "step": 48, "value": 0.1648},
      {"series": "Ours (τ-budget rollout)", "step": 49, "value": 0.1620},
      {"series": "Ours (τ-budget rollout)", "step": 50, "value": 0.1634},
      {"series": "Ours (τ-budget rollout)", "step": 51, "value": 0.1627},
      {"series": "Ours (τ-budget rollout)", "step": 52, "value": 0.1614},
      {"series": "Ours (τ-budget rollout)", "step": 53, "value": 0.1634},
      {"series": "Ours (τ-budget rollout)", "step": 54, "value": 0.1661},
      {"series": "Ours (τ-budget rollout)", "step": 55, "value": 0.1627},
      {"series": "Ours (τ-budget rollout)", "step": 56, "value": 0.1634},
      {"series": "Ours (τ-budget rollout)", "step": 57, "value": 0.1638},
      {"series": "Ours (τ-budget rollout)", "step": 58, "value": 0.1661},
      {"series": "Ours (τ-budget rollout)", "step": 59, "value": 0.1641},
      {"series": "Ours (τ-budget rollout)", "step": 60, "value": 0.1580},
      {"series": "Ours (τ-budget rollout)", "step": 61, "value": 0.1620},
      {"series": "Ours (τ-budget rollout)", "step": 62, "value": 0.1587},
      {"series": "Ours (τ-budget rollout)", "step": 63, "value": 0.1634},
      {"series": "Ours (τ-budget rollout)", "step": 64, "value": 0.1614},
      {"series": "Ours (τ-budget rollout)", "step": 65, "value": 0.1600},
      {"series": "Ours (τ-budget rollout)", "step": 66, "value": 0.1580},
      {"series": "Ours (τ-budget rollout)", "step": 67, "value": 0.1597},
      {"series": "Ours (τ-budget rollout)", "step": 68, "value": 0.1604},
      {"series": "Ours (τ-budget rollout)", "step": 69, "value": 0.1600},
      {"series": "Ours (τ-budget rollout)", "step": 70, "value": 0.1589},
      {"series": "Ours (τ-budget rollout)", "step": 71, "value": 0.1576},
      {"series": "Ours (τ-budget rollout)", "step": 72, "value": 0.1566},
      {"series": "Ours (τ-budget rollout)", "step": 73, "value": 0.1552},
      {"series": "Ours (τ-budget rollout)", "step": 74, "value": 0.1512},
      {"series": "Ours (τ-budget rollout)", "step": 75, "value": 0.1559},
      {"series": "Ours (τ-budget rollout)", "step": 76, "value": 0.1532},
      {"series": "Ours (τ-budget rollout)", "step": 77, "value": 0.1539},
      {"series": "Ours (τ-budget rollout)", "step": 78, "value": 0.1546},
      {"series": "Ours (τ-budget rollout)", "step": 79, "value": 0.1580},
      {"series": "Ours (τ-budget rollout)", "step": 80, "value": 0.1559},
      {"series": "Ours (τ-budget rollout)", "step": 81, "value": 0.1539},
      {"series": "Ours (τ-budget rollout)", "step": 82, "value": 0.1543},
      {"series": "Ours (τ-budget rollout)", "step": 83, "value": 0.1548},
      {"series": "Ours (τ-budget rollout)", "step": 84, "value": 0.1516},
      {"series": "Ours (τ-budget rollout)", "step": 85, "value": 0.1589},
      {"series": "Ours (τ-budget rollout)", "step": 86, "value": 0.1525},
      {"series": "Ours (τ-budget rollout)", "step": 87, "value": 0.1512},
      {"series": "Ours (τ-budget rollout)", "step": 88, "value": 0.1552},
      {"series": "Ours (τ-budget rollout)", "step": 89, "value": 0.1532},
      {"series": "Ours (τ-budget rollout)", "step": 90, "value": 0.1529},
      {"series": "Ours (τ-budget rollout)", "step": 91, "value": 0.1528},
      {"series": "Ours (τ-budget rollout)", "step": 92, "value": 0.1525},
      {"series": "Ours (τ-budget rollout)", "step": 93, "value": 0.1521},
      {"series": "Ours (τ-budget rollout)", "step": 94, "value": 0.1539},
      {"series": "Ours (τ-budget rollout)", "step": 95, "value": 0.1498},
      {"series": "Ours (τ-budget rollout)", "step": 96, "value": 0.1491},
      {"series": "Ours (τ-budget rollout)", "step": 97, "value": 0.1502},
      {"series": "Ours (τ-budget rollout)", "step": 98, "value": 0.1502},
      {"series": "Ours (τ-budget rollout)", "step": 99, "value": 0.1494},
      {"series": "Ours (τ-budget rollout)", "step": 100, "value": 0.1487}
    ]
  },
  "center": true,
  "spacing": 151,
  "vconcat": [
    {
      "width": 852,
      "height": 3,
      "view": {"fill": "#000", "stroke": null},
      "title": {"text": "Preprint. Under review.", "anchor": "start", "font": "Liberation Serif", "fontSize": 22.3, "offset": 1},
      "data": {"values": [{}]},
      "mark": {"type": "point", "opacity": 0},
      "encoding": {}
    },
    {
      "spacing": 11,
      "resolve": {"scale": {"color": "independent"}, "legend": {"color": "independent"}},
      "hconcat": [
        {
          "width": 310,
          "height": 234,
          "title": "SDAR-4B, block size 16",
          "data": {"name": "bs16"},
          "mark": {"type": "line", "strokeWidth": 2.5, "clip": true},
          "encoding": {
            "x": {
              "field": "step", "type": "quantitative",
              "scale": {"domain": [-6.95, 167.95], "nice": false, "zero": false},
              "axis": {"values": [0, 50, 100, 150], "title": "Training step"}
            },
            "y": {
              "field": "value", "type": "quantitative",
              "scale": {"domain": [0.1653, 0.2306], "nice": false, "zero": false},
              "axis": {"values": [0.17, 0.18, 0.19, 0.2, 0.21, 0.22, 0.23], "format": ".2f", "title": "Expected wrong commits / step"}
            },
            "color": {
              "field": "series", "type": "nominal",
              "scale": {
                "domain": ["TraceRL (dynamic rollout)", "Ours (τ-budget rollout)", "Random (dynamic rollout)"],
                "range": ["#d62728", "#1f77b4", "#bfbfbf"]
              },
              "legend": {"title": null, "orient": "top-left", "offset": 11, "symbolStrokeWidth": 2.5}
            }
          }
        },
        {
          "width": 310,
          "height": 234,
          "title": "SDAR-4B, block size 4",
          "data": {"name": "bs4"},
          "mark": {"type": "line", "strokeWidth": 2.1, "clip": true},
          "encoding": {
            "x": {
              "field": "step", "type": "quantitative",
              "scale": {"domain": [-3.95, 104.95], "nice": false, "zero": false},
              "axis": {"values": [0, 20, 40, 60, 80, 100], "title": "Training step"}
            },
            "y": {
              "field": "value", "type": "quantitative",
              "scale": {"domain": [0.1204, 0.2158], "nice": false, "zero": false},
              "axis": {"values": [0.14, 0.16, 0.18, 0.2], "format": ".2f", "title": "Expected wrong commits / step"}
            },
            "color": {
              "field": "series", "type": "nominal",
              "scale": {
                "domain": ["TraceRL (dynamic rollout)", "Ours (τ-budget rollout)"],
                "range": ["#d62728", "#1f77b4"]
              },
              "legend": {"title": null, "orient": "bottom-right", "offset": 11, "symbolStrokeWidth": 2.1}
            }
          }
        }
      ]
    }
  ]
}
